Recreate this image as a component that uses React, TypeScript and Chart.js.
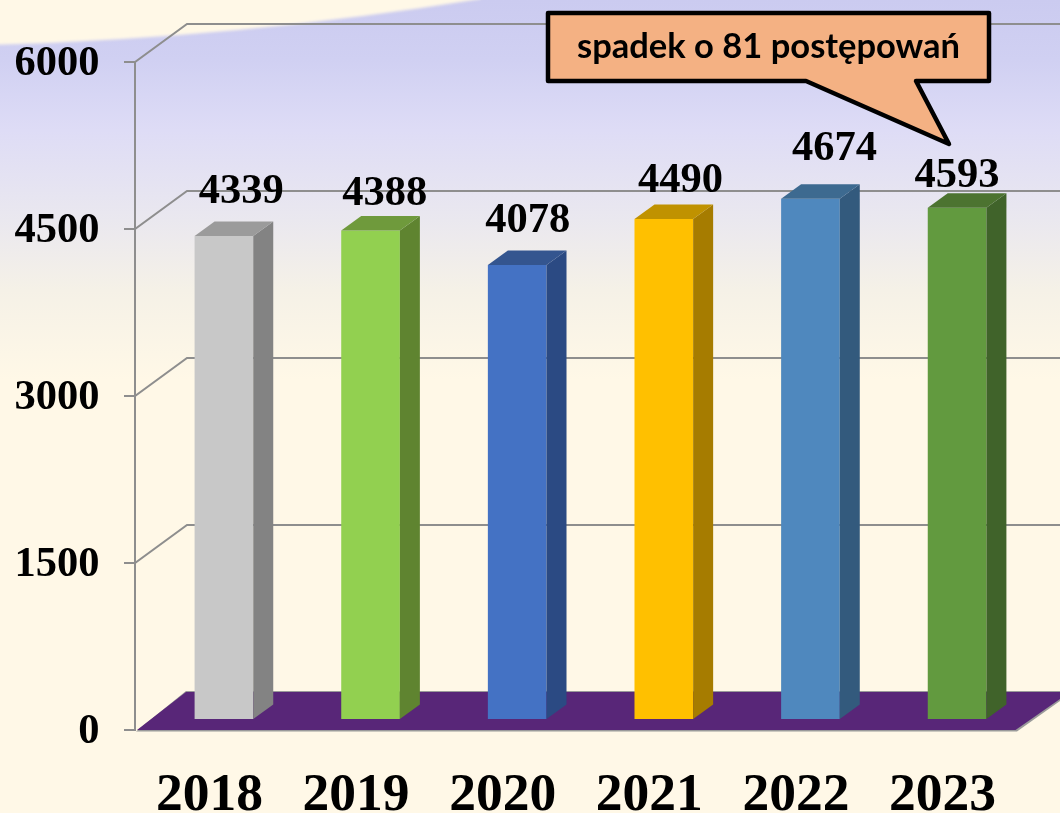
import React, { useEffect, useRef } from "react";
import { Chart, registerables } from "chart.js";

Chart.register(...registerables);

const categories = ["2018", "2019", "2020", "2021", "2022", "2023"];
const values = [4339, 4388, 4078, 4490, 4674, 4593];
const yTicks = [0, 1500, 3000, 4500, 6000];
const calloutText = "spadek o 81 postępowań";

const frontColors = ["#c8c8c8", "#92d050", "#4472c4", "#ffc000", "#4f88be", "#629a3f"];
const sideColors = ["#838383", "#5f8430", "#2b4a83", "#a67c00", "#335a7d", "#40632a"];
const topColors = ["#9b9b9b", "#6f9a3c", "#34558f", "#c09200", "#3d6a90", "#4c7330"];

const labelDx = [17.3, 14.2, 10.5, 16.6, 24, 0];
const labelDy = [33, 25.5, 33, 27, 39, 20.5];

const SERIF = '"Liberation Serif", serif';
const WALL_DROP = 11;
const DEPTH_X = 20;
const DEPTH_Y = 14.5;
const WALL_X = 135;
const BACK_DX = 52;
const BACK_DY = 38;
const GRID = "#8e8e8e";

const scene = {
  id: "scene",
  beforeDraw(chart: any) {
    const { ctx, width, height } = chart;
    ctx.save();
    const g = ctx.createLinearGradient(0, 0, 0, height);
    g.addColorStop(0, "#cbcbf0");
    g.addColorStop(60 / 813, "#d0d0f2");
    g.addColorStop(130 / 813, "#dedcf6");
    g.addColorStop(220 / 813, "#eae8ef");
    g.addColorStop(290 / 813, "#f5f1e7");
    g.addColorStop(380 / 813, "#fff8e7");
    g.addColorStop(1, "#fff8e7");
    ctx.fillStyle = g;
    ctx.fillRect(0, 0, width, height);
    ctx.filter = "blur(1.5px)";
    ctx.fillStyle = "#fff8e7";
    ctx.beginPath();
    ctx.moveTo(-10, -10);
    ctx.lineTo(-10, 45);
    ctx.quadraticCurveTo(240, 38, 480, -1);
    ctx.lineTo(490, -10);
    ctx.closePath();
    ctx.fill();
    ctx.restore();
  },
  beforeDatasetsDraw(chart: any) {
    const { ctx, width } = chart;
    const y = chart.scales.y;
    ctx.save();
    ctx.strokeStyle = GRID;
    ctx.lineWidth = 2;
    const zero = y.getPixelForValue(0) + WALL_DROP;
    const topY = y.getPixelForValue(yTicks[yTicks.length - 1]) + WALL_DROP;
    ctx.beginPath();
    ctx.moveTo(WALL_X, topY);
    ctx.lineTo(WALL_X, zero + 1);
    for (const t of yTicks) {
      const p = y.getPixelForValue(t) + WALL_DROP;
      ctx.moveTo(WALL_X - 11, p);
      ctx.lineTo(WALL_X, p);
      if (t > 0) {
        ctx.lineTo(WALL_X + BACK_DX, p - BACK_DY);
        ctx.lineTo(width, p - BACK_DY);
      }
    }
    ctx.stroke();
    // floor
    const floorBack = zero - BACK_DY;
    ctx.fillStyle = "#9a9a9a";
    ctx.beginPath();
    ctx.moveTo(136, zero + 1.5);
    ctx.lineTo(186, floorBack - 1);
    ctx.lineTo(1074, floorBack - 1);
    ctx.lineTo(1017, zero + 1.5);
    ctx.closePath();
    ctx.fill();
    ctx.fillStyle = "#582678";
    ctx.beginPath();
    ctx.moveTo(137, zero);
    ctx.lineTo(186, floorBack);
    ctx.lineTo(1070, floorBack);
    ctx.lineTo(1015.5, zero);
    ctx.closePath();
    ctx.fill();
    ctx.restore();
  },
  afterDatasetsDraw(chart: any) {
    const { ctx } = chart;
    const bars = chart.getDatasetMeta(0).data;
    ctx.save();
    bars.forEach((bar: any, i: number) => {
      const { x, y, base, width: w } = bar.getProps(["x", "y", "base", "width"], true);
      const l = x - w / 2;
      const r = x + w / 2;
      ctx.fillStyle = sideColors[i];
      ctx.beginPath();
      ctx.moveTo(r, y);
      ctx.lineTo(r + DEPTH_X, y - DEPTH_Y);
      ctx.lineTo(r + DEPTH_X, base - DEPTH_Y);
      ctx.lineTo(r, base);
      ctx.closePath();
      ctx.fill();
      ctx.fillStyle = topColors[i];
      ctx.beginPath();
      ctx.moveTo(l, y);
      ctx.lineTo(l + DEPTH_X, y - DEPTH_Y);
      ctx.lineTo(r + DEPTH_X, y - DEPTH_Y);
      ctx.lineTo(r, y);
      ctx.closePath();
      ctx.fill();
      ctx.fillStyle = "#000";
      ctx.font = `bold 42.5px ${SERIF}`;
      ctx.textAlign = "center";
      ctx.textBaseline = "alphabetic";
      ctx.fillText(String(values[i]), x + labelDx[i], y - labelDy[i]);
    });
    // callout
    ctx.fillStyle = "#f4b183";
    ctx.strokeStyle = "#000";
    ctx.lineWidth = 4.5;
    ctx.lineJoin = "round";
    ctx.beginPath();
    ctx.moveTo(548, 13);
    ctx.lineTo(989, 13);
    ctx.lineTo(989, 81);
    ctx.lineTo(916, 81);
    ctx.lineTo(949, 144);
    ctx.lineTo(806, 81);
    ctx.lineTo(548, 81);
    ctx.closePath();
    ctx.fill();
    ctx.stroke();
    ctx.fillStyle = "#000";
    ctx.font = "bold 34.5px Lato, sans-serif";
    ctx.textAlign = "center";
    ctx.textBaseline = "alphabetic";
    ctx.fillText(calloutText, 768.5, 58);
    ctx.restore();
  },
};

export default function App() {
  const ref = useRef<HTMLCanvasElement>(null);
  useEffect(() => {
    const chart = new Chart(ref.current as HTMLCanvasElement, {
      type: "bar",
      data: {
        labels: categories,
        datasets: [
          {
            data: values,
            backgroundColor: frontColors,
            borderWidth: 0,
            barPercentage: 0.4,
            categoryPercentage: 1,
          },
        ],
      },
      options: {
        animation: false,
        responsive: false,
        layout: { autoPadding: false, padding: { top: 51, right: 29.6, left: 0, bottom: 0 } },
        plugins: { legend: { display: false }, tooltip: { enabled: false }, title: { display: false } },
        scales: {
          x: {
            grid: { display: false },
            border: { display: false },
            afterFit: (s: any) => { s.height = 94; },
            ticks: {
              color: "#000",
              font: { family: SERIF, size: 53.5, weight: "bold" },
              labelOffset: -14.5,
              padding: 37,
              maxRotation: 0,
              autoSkip: false,
            },
          },
          y: {
            min: 0,
            max: 6000,
            grid: { display: false },
            border: { display: false },
            afterFit: (s: any) => { s.width = 150.6; s.paddingTop = 0; s.paddingBottom = 0; },
            ticks: {
              stepSize: 1500,
              callback: (v: any) => String(v),
              color: "#000",
              font: { family: SERIF, size: 42.5, weight: "bold" },
              labelOffset: WALL_DROP + 2,
              padding: 43,
            },
          },
        },
      },
      plugins: [scene],
    } as any);
    return () => chart.destroy();
  }, []);
  return (
    <canvas
      ref={ref}
      width={1060}
      height={813}
      style={{ position: "absolute", left: 0, top: 0, display: "block" }}
    />
  );
}
